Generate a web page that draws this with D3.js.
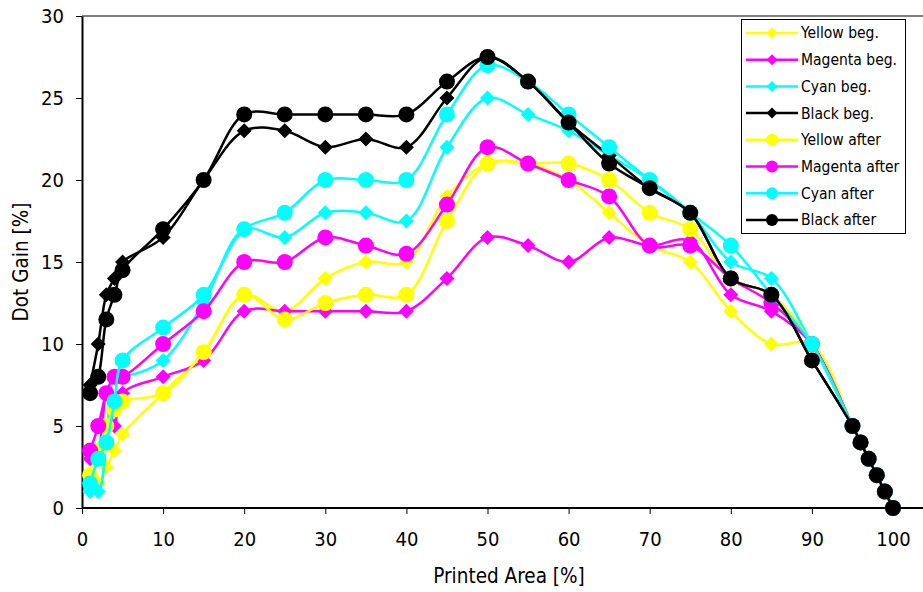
<!DOCTYPE html>
<html>
<head>
<meta charset="utf-8">
<script src="https://cdn.jsdelivr.net/npm/d3@7/dist/d3.min.js"></script>
<style>
  body { margin: 0; background: #fff; }
  svg { display: block; }
  text { font-family: "DejaVu Sans Condensed", "DejaVu Sans", sans-serif; }
</style>
</head>
<body>
<div id="chart"></div>
<script>
// Dot gain per printed area
const printedArea = [1, 2, 3, 4, 5, 10, 15, 20, 25, 30, 35, 40, 45, 50, 55, 60, 65, 70, 75, 80, 85, 90, 95, 96, 97, 98, 99, 100];

const yellowBeg   = [1, 1.5, 2.5, 3.5, 4.5, 7, 9.5, 13, 12, 14, 15, 15, 19, 21, 21, 20, 18, 16, 15, 12, 10, 10, 5, 4, 3, 2, 1, 0];
const magentaBeg  = [3, 3.5, 7, 5, 7, 8, 9, 12, 12, 12, 12, 12, 14, 16.5, 16, 15, 16.5, 16, 16.3, 13, 12, 10, 5, 4, 3, 2, 1, 0];
const cyanBeg     = [1, 1, 4, 8, 8, 9, 12.5, 17, 16.5, 18, 18, 17.5, 22, 25, 24, 23, 21.5, 20, 18, 15, 14, 10, 5, 4, 3, 2, 1, 0];
const blackBeg    = [7.5, 10, 13, 14, 15, 16.5, 20, 23, 23, 22, 22.5, 22, 25, 27.5, 26, 23.5, 21.5, 19.5, 18, 14, 13, 9, 5, 4, 3, 2, 1, 0];
const yellowAfter = [2, 3.5, 5, 6, 6.5, 7, 9.5, 13, 11.5, 12.5, 13, 13, 17.5, 21, 21, 21, 20, 18, 17, 14, 13, 10, 5, 4, 3, 2, 1, 0];
const magentaAfter = [3.5, 5, 7, 8, 8, 10, 12, 15, 15, 16.5, 16, 15.5, 18.5, 22, 21, 20, 19, 16, 16, 14, 12.5, 10, 5, 4, 3, 2, 1, 0];
const cyanAfter   = [1.5, 3, 4, 6.5, 9, 11, 13, 17, 18, 20, 20, 20, 24, 27, 26, 24, 22, 20, 18, 16, 13, 10, 5, 4, 3, 2, 1, 0];
const blackAfter  = [7, 8, 11.5, 13, 14.5, 17, 20, 24, 24, 24, 24, 24, 26, 27.5, 26, 23.5, 21, 19.5, 18, 14, 13, 9, 5, 4, 3, 2, 1, 0];

const seriesNames = ['Yellow beg.', 'Magenta beg.', 'Cyan beg.', 'Black beg.',
                     'Yellow after', 'Magenta after', 'Cyan after', 'Black after'];
const seriesValues = [yellowBeg, magentaBeg, cyanBeg, blackBeg,
                      yellowAfter, magentaAfter, cyanAfter, blackAfter];
const xTicks = [0, 10, 20, 30, 40, 50, 60, 70, 80, 90, 100];
const yTicks = [0, 5, 10, 15, 20, 25, 30];

const colors = ['#ffff00', '#ff00ff', '#00ffff', '#000000'];

const W = 923, H = 592;
const svg = d3.select('#chart').append('svg')
  .attr('width', W)
  .attr('height', H);

const x = d3.scaleLinear().domain([0, 100]).range([82, 893]);
const y = d3.scaleLinear().domain([0, 30]).range([508, 16]);

// frame: top line, y axis, x axis running off the right edge
svg.append('line')
  .attr('x1', x(0)).attr('x2', W)
  .attr('y1', y(30)).attr('y2', y(30))
  .attr('stroke', '#000').attr('stroke-width', 1);

const xAxis = svg.append('g')
  .attr('transform', `translate(0,${y(0)})`)
  .call(d3.axisBottom(x).tickValues(xTicks).tickSize(6).tickSizeOuter(0).tickPadding(18));
xAxis.select('.domain').remove();
svg.append('line')
  .attr('x1', x(0)).attr('x2', W)
  .attr('y1', y(0)).attr('y2', y(0))
  .attr('stroke', '#000').attr('stroke-width', 2);

const yAxis = svg.append('g')
  .attr('transform', `translate(${x(0)},0)`)
  .call(d3.axisLeft(y).tickValues(yTicks).tickSize(6).tickSizeOuter(0).tickPadding(12));
yAxis.select('.domain').attr('stroke-width', 2);

svg.selectAll('.tick text')
  .attr('font-size', 20)
  .attr('font-family', '"DejaVu Sans Condensed", "DejaVu Sans", sans-serif')
  .attr('fill', '#000');
svg.selectAll('.tick line').attr('stroke', '#000');

svg.append('text')
  .attr('x', 509).attr('y', 583)
  .attr('text-anchor', 'middle')
  .attr('font-size', 20.5)
  .text('Printed Area [%]');

svg.append('text')
  .attr('transform', 'translate(28,262) rotate(-90)')
  .attr('text-anchor', 'middle')
  .attr('font-size', 20.5)
  .text('Dot Gain [%]');

// series
const line = d3.line()
  .x(d => x(d[0]))
  .y(d => y(d[1]))
  .curve(d3.curveCatmullRom.alpha(0.5));

const diamond = s => `M0,${-s}L${s},0L0,${s}L${-s},0Z`;

seriesValues.forEach((vals, i) => {
  const pts = printedArea.map((p, j) => [p, vals[j]]);
  const col = colors[i % 4];
  const g = svg.append('g');
  g.append('path')
    .attr('d', line(pts))
    .attr('fill', 'none')
    .attr('stroke', col)
    .attr('stroke-width', 2.5);
  if (i < 4) {
    g.selectAll('path.m').data(pts).enter().append('path')
      .attr('class', 'm')
      .attr('transform', d => `translate(${x(d[0])},${y(d[1])})`)
      .attr('d', diamond(7.5))
      .attr('fill', col);
  } else {
    g.selectAll('circle').data(pts).enter().append('circle')
      .attr('cx', d => x(d[0]))
      .attr('cy', d => y(d[1]))
      .attr('r', 8)
      .attr('fill', col);
  }
});

// legend
const leg = svg.append('g');
leg.append('rect')
  .attr('x', 741.5).attr('y', 19.5)
  .attr('width', 164).attr('height', 214)
  .attr('fill', '#fff').attr('stroke', '#000').attr('stroke-width', 1);

seriesNames.forEach((name, i) => {
  const ly = 33 + i * 26.7;
  const col = colors[i % 4];
  leg.append('line')
    .attr('x1', 746).attr('x2', 798)
    .attr('y1', ly).attr('y2', ly)
    .attr('stroke', col).attr('stroke-width', 2.5);
  if (i < 4) {
    leg.append('path')
      .attr('transform', `translate(772,${ly})`)
      .attr('d', diamond(5.5))
      .attr('fill', col);
  } else {
    leg.append('circle')
      .attr('cx', 772).attr('cy', ly).attr('r', 6)
      .attr('fill', col);
  }
  leg.append('text')
    .attr('x', 801).attr('y', ly)
    .attr('dy', '0.35em')
    .attr('font-size', 15.5)
    .text(name);
});
</script>
</body>
</html>
